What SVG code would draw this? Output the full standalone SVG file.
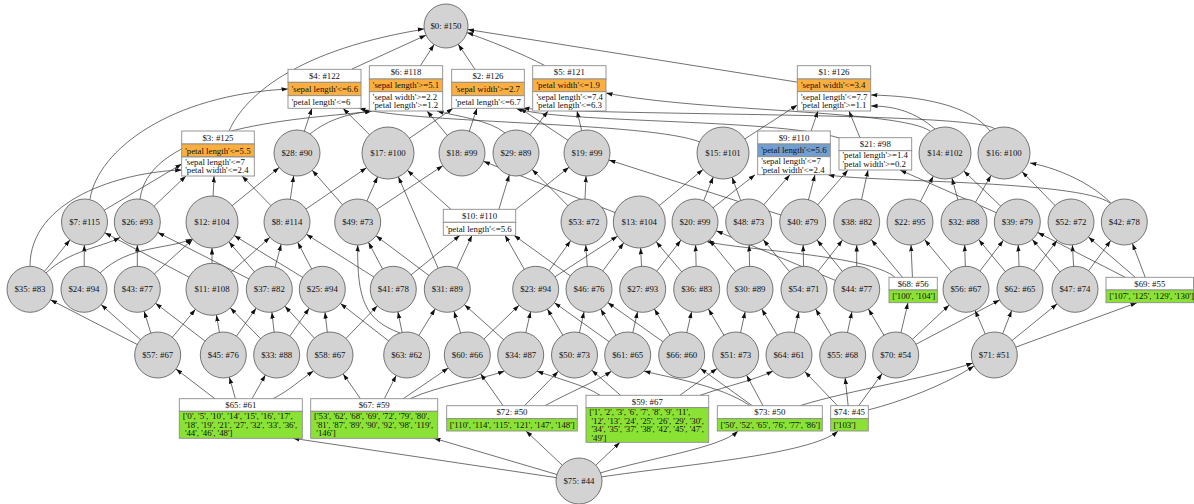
<svg xmlns="http://www.w3.org/2000/svg" width="1194" height="504" viewBox="0 0 1194 504">
<style>
.e{fill:none;stroke:#333;stroke-width:0.7}
.m0{marker-end:url(#a0)}.m22{marker-end:url(#a22)}.m23{marker-end:url(#a23)}.m26{marker-end:url(#a26)}
.c{fill:#d3d3d3;stroke:#555;stroke-width:0.8}
.b{fill:#fff;stroke:#8c8c8c;stroke-width:0.9}
.o{fill:#fcaf3e;stroke:#8c8c8c;stroke-width:0.9}
.u{fill:#729fcf;stroke:#8c8c8c;stroke-width:0.9}
.g{fill:#8ae234;stroke:#8c8c8c;stroke-width:0.9}
text{font-family:"Liberation Serif","Times New Roman",serif;font-size:8.8px;fill:#111}
.t{text-anchor:middle}
.s{font-size:7.7px}
</style>
<defs>
<marker id="a0" markerUnits="userSpaceOnUse" viewBox="0 -3 8 6" markerWidth="8" markerHeight="6" refX="6.5" refY="0" orient="auto"><path d="M0,-2.2L6.5,0L0,2.2z" fill="#111"/></marker>
<marker id="a22" markerUnits="userSpaceOnUse" viewBox="0 -3 8 6" markerWidth="8" markerHeight="6" refX="28.5" refY="0" orient="auto"><path d="M0,-2.2L6.5,0L0,2.2z" fill="#111"/></marker>
<marker id="a23" markerUnits="userSpaceOnUse" viewBox="0 -3 8 6" markerWidth="8" markerHeight="6" refX="29.5" refY="0" orient="auto"><path d="M0,-2.2L6.5,0L0,2.2z" fill="#111"/></marker>
<marker id="a26" markerUnits="userSpaceOnUse" viewBox="0 -3 8 6" markerWidth="8" markerHeight="6" refX="32.5" refY="0" orient="auto"><path d="M0,-2.2L6.5,0L0,2.2z" fill="#111"/></marker>
</defs>
<rect width="1194" height="504" fill="#fff"/>
<g id="edges">
<path class="e m22" d="M352,69L446,26"/>
<path class="e m22" d="M406,88L446,26"/>
<path class="e m22" d="M488,88.8L446,26"/>
<path class="e m22" d="M545,65.7C525,55 485,38 446,26"/>
<path class="e m22" d="M834,88L446,26"/>
<path class="e m22" d="M229,131C245,95 300,45 446,26"/>
<path class="e m0" d="M297,153L312,108.3"/>
<path class="e m0" d="M310,134C330,118 350,114 371,111"/>
<path class="e m0" d="M388,153L343,108.3"/>
<path class="e m0" d="M388,153L453,108.3"/>
<path class="e m0" d="M462,153L427,111"/>
<path class="e m0" d="M462,153L477,108.3"/>
<path class="e m0" d="M516,153L548,111"/>
<path class="e m0" d="M505,133C490,120 455,116 437,111"/>
<path class="e m0" d="M587,153L520,108.3"/>
<path class="e m0" d="M587,153L577,111"/>
<path class="e m0" d="M723,153L797.3,105"/>
<path class="e m0" d="M700,142C650,122 420,124 359,108.3"/>
<path class="e m0" d="M808,140L818,111"/>
<path class="e m0" d="M865,150L849,111"/>
<path class="e m0" d="M845,140C790,118 560,124 516,108.3"/>
<path class="e m0" d="M935,129C915,112 895,106 871,106"/>
<path class="e m0" d="M990,131C970,105 920,96 871,95"/>
<path class="e m0" d="M930,131C900,110 700,112 606,93"/>
<path class="e m0" d="M995,129C975,112 620,116 523,108.3"/>
<path class="e m0" d="M84.5,222L181.7,164"/>
<path class="e m0" d="M90,199C98,150 170,95 288,89"/>
<path class="e m0" d="M137.3,222L186,176"/>
<path class="e m0" d="M140,199C150,120 330,118 372,111"/>
<path class="e m0" d="M212,222L214,176"/>
<path class="e m23" d="M212,222L297,153"/>
<path class="e m0" d="M287,222L242,176"/>
<path class="e m23" d="M287,222L297,153"/>
<path class="e m26" d="M287,222L388,153"/>
<path class="e m23" d="M357.7,222L297,153"/>
<path class="e m26" d="M357.7,222L388,153"/>
<path class="e m23" d="M357.7,222L462,153"/>
<path class="e m26" d="M465,222L388,153"/>
<path class="e m23" d="M500,222L587,153"/>
<path class="e m23" d="M495,222L516,153"/>
<path class="e m23" d="M584,222L516,153"/>
<path class="e m23" d="M584,222L587,153"/>
<path class="e m23" d="M639.3,222L462,153"/>
<path class="e m26" d="M639.3,222L723,153"/>
<path class="e m26" d="M695,222L723,153"/>
<path class="e m0" d="M695,222L755,174.7"/>
<path class="e m26" d="M748.7,222L723,153"/>
<path class="e m0" d="M748.7,222L790,174.7"/>
<path class="e m23" d="M802.7,222L587,153"/>
<path class="e m0" d="M802.7,222L815,174.7"/>
<path class="e m0" d="M856.7,222L868,170"/>
<path class="e m0" d="M802.7,222L848,170"/>
<path class="e m26" d="M910,222L945,153"/>
<path class="e m26" d="M964,222L945,153"/>
<path class="e m26" d="M964,222L1004,153"/>
<path class="e m26" d="M1017.3,222L945,153"/>
<path class="e m0" d="M1017.3,222L900,170"/>
<path class="e m26" d="M1071,222L1004,153"/>
<path class="e m0" d="M1124.3,222C1110,190 1060,168 1030,163"/>
<path class="e m0" d="M1110,203C1080,180 860,182 828,174.7"/>
<path class="e m23" d="M30,289.3L84.5,222"/>
<path class="e m0" d="M30,266C30,200 120,172 181.7,170"/>
<path class="e m0" d="M46,273C70,250 100,248 120,237.5"/>
<path class="e m23" d="M84,289.3L84.5,222"/>
<path class="e m0" d="M100,273C130,245 165,250 192,239"/>
<path class="e m23" d="M137.3,289.3L137.3,222"/>
<path class="e m26" d="M137.3,289.3L212,222"/>
<path class="e m23" d="M212,289.3L84.5,222"/>
<path class="e m26" d="M212,289.3L212,222"/>
<path class="e m23" d="M212,289.3L287,222"/>
<path class="e m26" d="M269.3,289.3L212,222"/>
<path class="e m23" d="M269.3,289.3L287,222"/>
<path class="e m23" d="M269.3,289.3L137.3,222"/>
<path class="e m23" d="M322.3,289.3L287,222"/>
<path class="e m26" d="M322.3,289.3L212,222"/>
<path class="e m23" d="M393.3,289.3L287,222"/>
<path class="e m23" d="M393.3,289.3L357.7,222"/>
<path class="e m0" d="M393.3,289.3L460,235.3"/>
<path class="e m0" d="M447.3,289.3L472,235.3"/>
<path class="e m26" d="M447.3,289.3L388,153"/>
<path class="e m23" d="M447.3,289.3L357.7,222"/>
<path class="e m23" d="M535.7,289.3L584,222"/>
<path class="e m26" d="M535.7,289.3L639.3,222"/>
<path class="e m0" d="M535.7,289.3L505,235.3"/>
<path class="e m26" d="M589,289.3L639.3,222"/>
<path class="e m23" d="M589,289.3L584,222"/>
<path class="e m0" d="M589,289.3L514,235.3"/>
<path class="e m26" d="M642.7,289.3L639.3,222"/>
<path class="e m23" d="M642.7,289.3L695,222"/>
<path class="e m26" d="M696.7,289.3L639.3,222"/>
<path class="e m23" d="M696.7,289.3L695,222"/>
<path class="e m23" d="M750,289.3L695,222"/>
<path class="e m23" d="M750,289.3L748.7,222"/>
<path class="e m23" d="M804,289.3L748.7,222"/>
<path class="e m23" d="M804,289.3L802.7,222"/>
<path class="e m23" d="M804,289.3L856.7,222"/>
<path class="e m23" d="M856.7,289.3L802.7,222"/>
<path class="e m23" d="M856.7,289.3L856.7,222"/>
<path class="e m23" d="M856.7,289.3L695,222"/>
<path class="e m23" d="M913,290L856.7,222"/>
<path class="e m23" d="M913,290L910,222"/>
<path class="e m0" d="M895,277.3C870,255 740,250 707,241.6"/>
<path class="e m23" d="M966,289.3L910,222"/>
<path class="e m23" d="M966,289.3L964,222"/>
<path class="e m23" d="M966,289.3L1017.3,222"/>
<path class="e m23" d="M1020,289.3L964,222"/>
<path class="e m23" d="M1020,289.3L1017.3,222"/>
<path class="e m23" d="M1020,289.3L1071,222"/>
<path class="e m23" d="M1075,289.3L1017.3,222"/>
<path class="e m23" d="M1075,289.3L1071,222"/>
<path class="e m23" d="M1075,289.3L1124.3,222"/>
<path class="e m23" d="M1150,290L1124.3,222"/>
<path class="e m23" d="M1150,290L1071,222"/>
<path class="e m23" d="M1150,290L1017.3,222"/>
<path class="e m23" d="M157.7,355L30,289.3"/>
<path class="e m23" d="M157.7,355L84,289.3"/>
<path class="e m23" d="M157.7,355L137.3,289.3"/>
<path class="e m26" d="M157.7,355L212,289.3"/>
<path class="e m23" d="M223.3,355L137.3,289.3"/>
<path class="e m26" d="M223.3,355L212,289.3"/>
<path class="e m23" d="M223.3,355L269.3,289.3"/>
<path class="e m26" d="M276.7,355L212,289.3"/>
<path class="e m23" d="M276.7,355L269.3,289.3"/>
<path class="e m23" d="M276.7,355L322.3,289.3"/>
<path class="e m23" d="M330,355L269.3,289.3"/>
<path class="e m23" d="M330,355L322.3,289.3"/>
<path class="e m23" d="M330,355L393.3,289.3"/>
<path class="e m23" d="M406.7,355L393.3,289.3"/>
<path class="e m23" d="M406.7,355L447.3,289.3"/>
<path class="e m23" d="M406.7,355L322.3,289.3"/>
<path class="e m0" d="M400,333C365,320 357,300 357.7,245"/>
<path class="e m23" d="M467.3,355L447.3,289.3"/>
<path class="e m23" d="M467.3,355L535.7,289.3"/>
<path class="e m23" d="M520.7,355L447.3,289.3"/>
<path class="e m23" d="M520.7,355L535.7,289.3"/>
<path class="e m23" d="M574.5,355L535.7,289.3"/>
<path class="e m23" d="M574.5,355L589,289.3"/>
<path class="e m23" d="M627.7,355L589,289.3"/>
<path class="e m23" d="M627.7,355L642.7,289.3"/>
<path class="e m23" d="M627.7,355L535.7,289.3"/>
<path class="e m23" d="M681.7,355L642.7,289.3"/>
<path class="e m23" d="M681.7,355L696.7,289.3"/>
<path class="e m23" d="M681.7,355L589,289.3"/>
<path class="e m23" d="M735.7,355L696.7,289.3"/>
<path class="e m23" d="M735.7,355L750,289.3"/>
<path class="e m23" d="M789,355L750,289.3"/>
<path class="e m23" d="M789,355L804,289.3"/>
<path class="e m23" d="M842.7,355L804,289.3"/>
<path class="e m23" d="M842.7,355L856.7,289.3"/>
<path class="e m23" d="M895.7,355L856.7,289.3"/>
<path class="e m0" d="M895.7,355L908,302.7"/>
<path class="e m23" d="M895.7,355L966,289.3"/>
<path class="e m23" d="M895.7,355L1020,289.3"/>
<path class="e m23" d="M994.3,355L966,289.3"/>
<path class="e m23" d="M994.3,355L1020,289.3"/>
<path class="e m23" d="M994.3,355L1075,289.3"/>
<path class="e m0" d="M994.3,355L1137,302.7"/>
<path class="e m23" d="M240.8,418.5L157.7,355"/>
<path class="e m23" d="M240.8,418.5L223.3,355"/>
<path class="e m23" d="M240.8,418.5L276.7,355"/>
<path class="e m0" d="M273,398.7C290,390 300,380 313.5,371"/>
<path class="e m23" d="M374.2,418.5L330,355"/>
<path class="e m23" d="M374.2,418.5L406.7,355"/>
<path class="e m23" d="M374.2,418.5L467.3,355"/>
<path class="e m0" d="M410,398.7C440,385 480,380 504.5,371"/>
<path class="e m23" d="M512,418.3L467.3,355"/>
<path class="e m23" d="M512,418.3L574.5,355"/>
<path class="e m0" d="M545,405.7C570,392 595,382 611.4,371.3"/>
<path class="e m23" d="M647.3,418.8L574.5,355"/>
<path class="e m23" d="M647.3,418.8L735.7,355"/>
<path class="e m0" d="M600,395.3C585,385 555,378 537,371"/>
<path class="e m0" d="M700,395.3C730,385 755,380 773,371"/>
<path class="e m23" d="M769.8,418.3L681.7,355"/>
<path class="e m0" d="M750,405.7C720,385 670,378 644,371"/>
<path class="e m23" d="M769.8,418.3L735.7,355"/>
<path class="e m0" d="M800,405.7C850,390 930,378 972.8,363"/>
<path class="e m23" d="M849.5,418.3L789,355"/>
<path class="e m23" d="M849.5,418.3L842.7,355"/>
<path class="e m23" d="M849.5,418.3L895.7,355"/>
<path class="e m0" d="M868,410C900,402 945,385 974,366"/>
<path class="e m0" d="M579,481L293,438.3"/>
<path class="e m0" d="M579,481L434,438.3"/>
<path class="e m0" d="M579,481L526,431"/>
<path class="e m0" d="M579,481L620,442.3"/>
<path class="e m0" d="M600,473C650,458 720,448 738,431"/>
<path class="e m0" d="M601,477C680,465 810,455 838,431"/>
</g>
<g id="n0"><circle class="c" cx="446" cy="26" r="22"/><text class="t" x="446" y="29">$0: #150</text></g>
<g id="n4"><rect class="b" x="288" y="69.3" width="73" height="13"/><rect class="o" x="288" y="82.3" width="73" height="13.4"/><rect class="b" x="288" y="95.7" width="73" height="12.6"/><text class="t" x="324.5" y="78.8">$4: #122</text><text x="291.7" y="92">'sepal length'&lt;=6.6</text><text x="291.7" y="105">'petal length'&lt;=6</text></g>
<g id="n6"><rect class="b" x="369.3" y="65.7" width="73.4" height="13.3"/><rect class="o" x="369.3" y="79" width="73.4" height="12.7"/><rect class="b" x="369.3" y="91.7" width="73.4" height="19.3"/><text class="t" x="406" y="75.3">$6: #118</text><text x="372.8" y="88.3">'sepal length'&gt;=5.1</text><text class="s" x="372.8" y="99.5" textLength="64.4" lengthAdjust="spacingAndGlyphs">'sepal width'&gt;=2.2</text><text class="s" x="372.8" y="108.2" textLength="65.4" lengthAdjust="spacingAndGlyphs">'petal length'&gt;=1.2</text></g>
<g id="n2"><rect class="b" x="451.7" y="69.3" width="72.6" height="13"/><rect class="o" x="451.7" y="82.3" width="72.6" height="13.4"/><rect class="b" x="451.7" y="95.7" width="72.6" height="12.6"/><text class="t" x="488" y="78.8">$2: #126</text><text x="455.5" y="92">'sepal width'&gt;=2.7</text><text x="455.5" y="105">'petal length'&lt;=6.7</text></g>
<g id="n5"><rect class="b" x="532.7" y="65.7" width="73.3" height="13.3"/><rect class="o" x="532.7" y="79" width="73.3" height="12.7"/><rect class="b" x="532.7" y="91.7" width="73.3" height="19.3"/><text class="t" x="569.3" y="75.3">$5: #121</text><text x="536.5" y="88.3">'petal width'&lt;=1.9</text><text class="s" x="536.5" y="99.5" textLength="66.4" lengthAdjust="spacingAndGlyphs">'sepal length'&lt;=7.4</text><text class="s" x="536.5" y="108.2" textLength="65.4" lengthAdjust="spacingAndGlyphs">'petal length'&lt;=6.3</text></g>
<g id="n1"><rect class="b" x="797.3" y="65.7" width="73.4" height="13.3"/><rect class="o" x="797.3" y="79" width="73.4" height="12.7"/><rect class="b" x="797.3" y="91.7" width="73.4" height="19.3"/><text class="t" x="834" y="75.3">$1: #126</text><text x="801" y="88.3">'sepal width'&lt;=3.4</text><text class="s" x="801" y="99.5" textLength="66.4" lengthAdjust="spacingAndGlyphs">'sepal length'&lt;=7.7</text><text class="s" x="801" y="108.2" textLength="65.4" lengthAdjust="spacingAndGlyphs">'petal length'&gt;=1.1</text></g>
<g id="n3"><rect class="b" x="181.7" y="131" width="72.6" height="13"/><rect class="o" x="181.7" y="144" width="72.6" height="13"/><rect class="b" x="181.7" y="157" width="72.6" height="19"/><text class="t" x="218" y="140.5">$3: #125</text><text x="185.2" y="153.5">'petal length'&lt;=5.5</text><text class="s" x="185.2" y="164.5" textLength="59.8" lengthAdjust="spacingAndGlyphs">'sepal length'&lt;=7</text><text class="s" x="185.2" y="173.2" textLength="63.4" lengthAdjust="spacingAndGlyphs">'petal width'&lt;=2.4</text></g>
<g id="n28"><circle class="c" cx="297" cy="153" r="23"/><text class="t" x="297" y="156">$28: #90</text></g>
<g id="n17"><circle class="c" cx="388" cy="153" r="26"/><text class="t" x="388" y="156">$17: #100</text></g>
<g id="n18"><circle class="c" cx="462" cy="153" r="23"/><text class="t" x="462" y="156">$18: #99</text></g>
<g id="n29"><circle class="c" cx="516" cy="153" r="23"/><text class="t" x="516" y="156">$29: #89</text></g>
<g id="n19"><circle class="c" cx="587" cy="153" r="23"/><text class="t" x="587" y="156">$19: #99</text></g>
<g id="n15"><circle class="c" cx="723" cy="153" r="26"/><text class="t" x="723" y="156">$15: #101</text></g>
<g id="n9"><rect class="b" x="757.7" y="131" width="72.6" height="13"/><rect class="u" x="757.7" y="144" width="72.6" height="12.7"/><rect class="b" x="757.7" y="156.7" width="72.6" height="18"/><text class="t" x="794" y="140.5">$9: #110</text><text x="761.2" y="153.3">'petal length'&lt;=5.6</text><text class="s" x="761.2" y="164" textLength="59.8" lengthAdjust="spacingAndGlyphs">'sepal length'&lt;=7</text><text class="s" x="761.2" y="172.7" textLength="63.4" lengthAdjust="spacingAndGlyphs">'petal width'&lt;=2.4</text></g>
<g id="n21"><rect class="b" x="839" y="137.7" width="72.7" height="13"/><rect class="b" x="839" y="150.7" width="72.7" height="19.3"/><text class="t" x="875.3" y="147.2">$21: #98</text><text class="s" x="842.5" y="158.4" textLength="65.4" lengthAdjust="spacingAndGlyphs">'petal length'&gt;=1.4</text><text class="s" x="842.5" y="167.1" textLength="63.4" lengthAdjust="spacingAndGlyphs">'petal width'&gt;=0.2</text></g>
<g id="n14"><circle class="c" cx="945" cy="153" r="26"/><text class="t" x="945" y="156">$14: #102</text></g>
<g id="n16"><circle class="c" cx="1004" cy="153" r="26"/><text class="t" x="1004" y="156">$16: #100</text></g>
<g id="n7"><circle class="c" cx="84.5" cy="222" r="23"/><text class="t" x="84.5" y="225">$7: #115</text></g>
<g id="n26"><circle class="c" cx="137.3" cy="222" r="23"/><text class="t" x="137.3" y="225">$26: #93</text></g>
<g id="n12"><circle class="c" cx="212" cy="222" r="26"/><text class="t" x="212" y="225">$12: #104</text></g>
<g id="n8"><circle class="c" cx="287" cy="222" r="23"/><text class="t" x="287" y="225">$8: #114</text></g>
<g id="n49"><circle class="c" cx="357.7" cy="222" r="23"/><text class="t" x="357.7" y="225">$49: #73</text></g>
<g id="n10"><rect class="b" x="443.3" y="209.3" width="72.4" height="13"/><rect class="b" x="443.3" y="222.3" width="72.4" height="13"/><text class="t" x="479.5" y="218.8">$10: #110</text><text x="446.3" y="231.8">'petal length'&lt;=5.6</text></g>
<g id="n53"><circle class="c" cx="584" cy="222" r="23"/><text class="t" x="584" y="225">$53: #72</text></g>
<g id="n13"><circle class="c" cx="639.3" cy="222" r="26"/><text class="t" x="639.3" y="225">$13: #104</text></g>
<g id="n20"><circle class="c" cx="695" cy="222" r="23"/><text class="t" x="695" y="225">$20: #99</text></g>
<g id="n48"><circle class="c" cx="748.7" cy="222" r="23"/><text class="t" x="748.7" y="225">$48: #73</text></g>
<g id="n40"><circle class="c" cx="802.7" cy="222" r="23"/><text class="t" x="802.7" y="225">$40: #79</text></g>
<g id="n38"><circle class="c" cx="856.7" cy="222" r="23"/><text class="t" x="856.7" y="225">$38: #82</text></g>
<g id="n22"><circle class="c" cx="910" cy="222" r="23"/><text class="t" x="910" y="225">$22: #95</text></g>
<g id="n32"><circle class="c" cx="964" cy="222" r="23"/><text class="t" x="964" y="225">$32: #88</text></g>
<g id="n39"><circle class="c" cx="1017.3" cy="222" r="23"/><text class="t" x="1017.3" y="225">$39: #79</text></g>
<g id="n52"><circle class="c" cx="1071" cy="222" r="23"/><text class="t" x="1071" y="225">$52: #72</text></g>
<g id="n42"><circle class="c" cx="1124.3" cy="222" r="23"/><text class="t" x="1124.3" y="225">$42: #78</text></g>
<g id="n35"><circle class="c" cx="30" cy="289.3" r="23"/><text class="t" x="30" y="292.3">$35: #83</text></g>
<g id="n24"><circle class="c" cx="84" cy="289.3" r="23"/><text class="t" x="84" y="292.3">$24: #94</text></g>
<g id="n43"><circle class="c" cx="137.3" cy="289.3" r="23"/><text class="t" x="137.3" y="292.3">$43: #77</text></g>
<g id="n11"><circle class="c" cx="212" cy="289.3" r="26"/><text class="t" x="212" y="292.3">$11: #108</text></g>
<g id="n37"><circle class="c" cx="269.3" cy="289.3" r="23"/><text class="t" x="269.3" y="292.3">$37: #82</text></g>
<g id="n25"><circle class="c" cx="322.3" cy="289.3" r="23"/><text class="t" x="322.3" y="292.3">$25: #94</text></g>
<g id="n41"><circle class="c" cx="393.3" cy="289.3" r="23"/><text class="t" x="393.3" y="292.3">$41: #78</text></g>
<g id="n31"><circle class="c" cx="447.3" cy="289.3" r="23"/><text class="t" x="447.3" y="292.3">$31: #89</text></g>
<g id="n23"><circle class="c" cx="535.7" cy="289.3" r="23"/><text class="t" x="535.7" y="292.3">$23: #94</text></g>
<g id="n46"><circle class="c" cx="589" cy="289.3" r="23"/><text class="t" x="589" y="292.3">$46: #76</text></g>
<g id="n27"><circle class="c" cx="642.7" cy="289.3" r="23"/><text class="t" x="642.7" y="292.3">$27: #93</text></g>
<g id="n36"><circle class="c" cx="696.7" cy="289.3" r="23"/><text class="t" x="696.7" y="292.3">$36: #83</text></g>
<g id="n30"><circle class="c" cx="750" cy="289.3" r="23"/><text class="t" x="750" y="292.3">$30: #89</text></g>
<g id="n54"><circle class="c" cx="804" cy="289.3" r="23"/><text class="t" x="804" y="292.3">$54: #71</text></g>
<g id="n44"><circle class="c" cx="856.7" cy="289.3" r="23"/><text class="t" x="856.7" y="292.3">$44: #77</text></g>
<g id="n68"><rect class="b" x="889" y="277.3" width="48.3" height="12.7"/><rect class="g" x="889" y="290" width="48.3" height="12.7"/><text class="t" x="913.2" y="286.7">$68: #56</text><text x="892.3" y="299.3">['100', '104']</text></g>
<g id="n56"><circle class="c" cx="966" cy="289.3" r="23"/><text class="t" x="966" y="292.3">$56: #67</text></g>
<g id="n62"><circle class="c" cx="1020" cy="289.3" r="23"/><text class="t" x="1020" y="292.3">$62: #65</text></g>
<g id="n47"><circle class="c" cx="1075" cy="289.3" r="23"/><text class="t" x="1075" y="292.3">$47: #74</text></g>
<g id="n69"><rect class="b" x="1106" y="277.3" width="87.5" height="12.7"/><rect class="g" x="1106" y="290" width="87.5" height="12.7"/><text class="t" x="1149.8" y="286.7">$69: #55</text><text x="1109.3" y="299.3">['107', '125', '129', '130']</text></g>
<g id="n57"><circle class="c" cx="157.7" cy="355" r="23"/><text class="t" x="157.7" y="358">$57: #67</text></g>
<g id="n45"><circle class="c" cx="223.3" cy="355" r="23"/><text class="t" x="223.3" y="358">$45: #76</text></g>
<g id="n33"><circle class="c" cx="276.7" cy="355" r="23"/><text class="t" x="276.7" y="358">$33: #88</text></g>
<g id="n58"><circle class="c" cx="330" cy="355" r="23"/><text class="t" x="330" y="358">$58: #67</text></g>
<g id="n63"><circle class="c" cx="406.7" cy="355" r="23"/><text class="t" x="406.7" y="358">$63: #62</text></g>
<g id="n60"><circle class="c" cx="467.3" cy="355" r="23"/><text class="t" x="467.3" y="358">$60: #66</text></g>
<g id="n34"><circle class="c" cx="520.7" cy="355" r="23"/><text class="t" x="520.7" y="358">$34: #87</text></g>
<g id="n50"><circle class="c" cx="574.5" cy="355" r="23"/><text class="t" x="574.5" y="358">$50: #73</text></g>
<g id="n61"><circle class="c" cx="627.7" cy="355" r="23"/><text class="t" x="627.7" y="358">$61: #65</text></g>
<g id="n66"><circle class="c" cx="681.7" cy="355" r="23"/><text class="t" x="681.7" y="358">$66: #60</text></g>
<g id="n51"><circle class="c" cx="735.7" cy="355" r="23"/><text class="t" x="735.7" y="358">$51: #73</text></g>
<g id="n64"><circle class="c" cx="789" cy="355" r="23"/><text class="t" x="789" y="358">$64: #61</text></g>
<g id="n55"><circle class="c" cx="842.7" cy="355" r="23"/><text class="t" x="842.7" y="358">$55: #68</text></g>
<g id="n70"><circle class="c" cx="895.7" cy="355" r="23"/><text class="t" x="895.7" y="358">$70: #54</text></g>
<g id="n71"><circle class="c" cx="994.3" cy="355" r="23"/><text class="t" x="994.3" y="358">$71: #51</text></g>
<g id="n65"><rect class="b" x="179.3" y="398.7" width="123" height="12.6"/><rect class="g" x="179.3" y="411.3" width="123" height="27"/><text class="t" x="240.8" y="408">$65: #61</text><text class="s" x="182.7" y="418.8" textLength="110" lengthAdjust="spacingAndGlyphs">['0', '5', '10', '14', '15', '16', '17',</text><text class="s" x="184.9" y="427.5" textLength="112.4" lengthAdjust="spacingAndGlyphs">'18', '19', '21', '27', '32', '33', '36',</text><text class="s" x="184.9" y="436.2" textLength="47.6" lengthAdjust="spacingAndGlyphs">'44', '46', '48']</text></g>
<g id="n67"><rect class="b" x="310.7" y="398.7" width="127" height="12.6"/><rect class="g" x="310.7" y="411.3" width="127" height="27"/><text class="t" x="374.2" y="408">$67: #59</text><text class="s" x="314.1" y="418.8" textLength="115.3" lengthAdjust="spacingAndGlyphs">['53', '62', '68', '69', '72', '79', '80',</text><text class="s" x="316.3" y="427.5" textLength="116.8" lengthAdjust="spacingAndGlyphs">'81', '87', '89', '90', '92', '98', '119',</text><text class="s" x="316.3" y="436.2" textLength="19.3" lengthAdjust="spacingAndGlyphs">'146']</text></g>
<g id="n72"><rect class="b" x="446.7" y="405.7" width="130.6" height="13"/><rect class="g" x="446.7" y="418.7" width="130.6" height="12.3"/><text class="t" x="512" y="415.2">$72: #50</text><text x="449.7" y="427.9">['110', '114', '115', '121', '147', '148']</text></g>
<g id="n59"><rect class="b" x="586" y="395.3" width="122.7" height="12.4"/><rect class="g" x="586" y="407.7" width="122.7" height="34.6"/><text class="t" x="647.3" y="404.5">$59: #67</text><text class="s" x="589.3" y="414.8" textLength="100.9" lengthAdjust="spacingAndGlyphs">['1', '2', '3', '6', '7', '8', '9', '11',</text><text class="s" x="591.5" y="423.5" textLength="112.4" lengthAdjust="spacingAndGlyphs">'12', '13', '24', '25', '26', '29', '30',</text><text class="s" x="591.5" y="432.2" textLength="112.4" lengthAdjust="spacingAndGlyphs">'34', '35', '37', '38', '42', '45', '47',</text><text class="s" x="591.5" y="440.9" textLength="14.9" lengthAdjust="spacingAndGlyphs">'49']</text></g>
<g id="n73"><rect class="b" x="717.3" y="405.7" width="105" height="13"/><rect class="g" x="717.3" y="418.7" width="105" height="12.3"/><text class="t" x="769.8" y="415.2">$73: #50</text><text x="720.5" y="427.9">['50', '52', '65', '76', '77', '86']</text></g>
<g id="n74"><rect class="b" x="830.7" y="405.7" width="37.6" height="13"/><rect class="g" x="830.7" y="418.7" width="37.6" height="12.3"/><text class="t" x="849.5" y="415.2">$74: #45</text><text x="833.5" y="427.9">['103']</text></g>
<g id="n75"><circle class="c" cx="579" cy="481" r="23"/><text class="t" x="579" y="484">$75: #44</text></g>
</svg>
